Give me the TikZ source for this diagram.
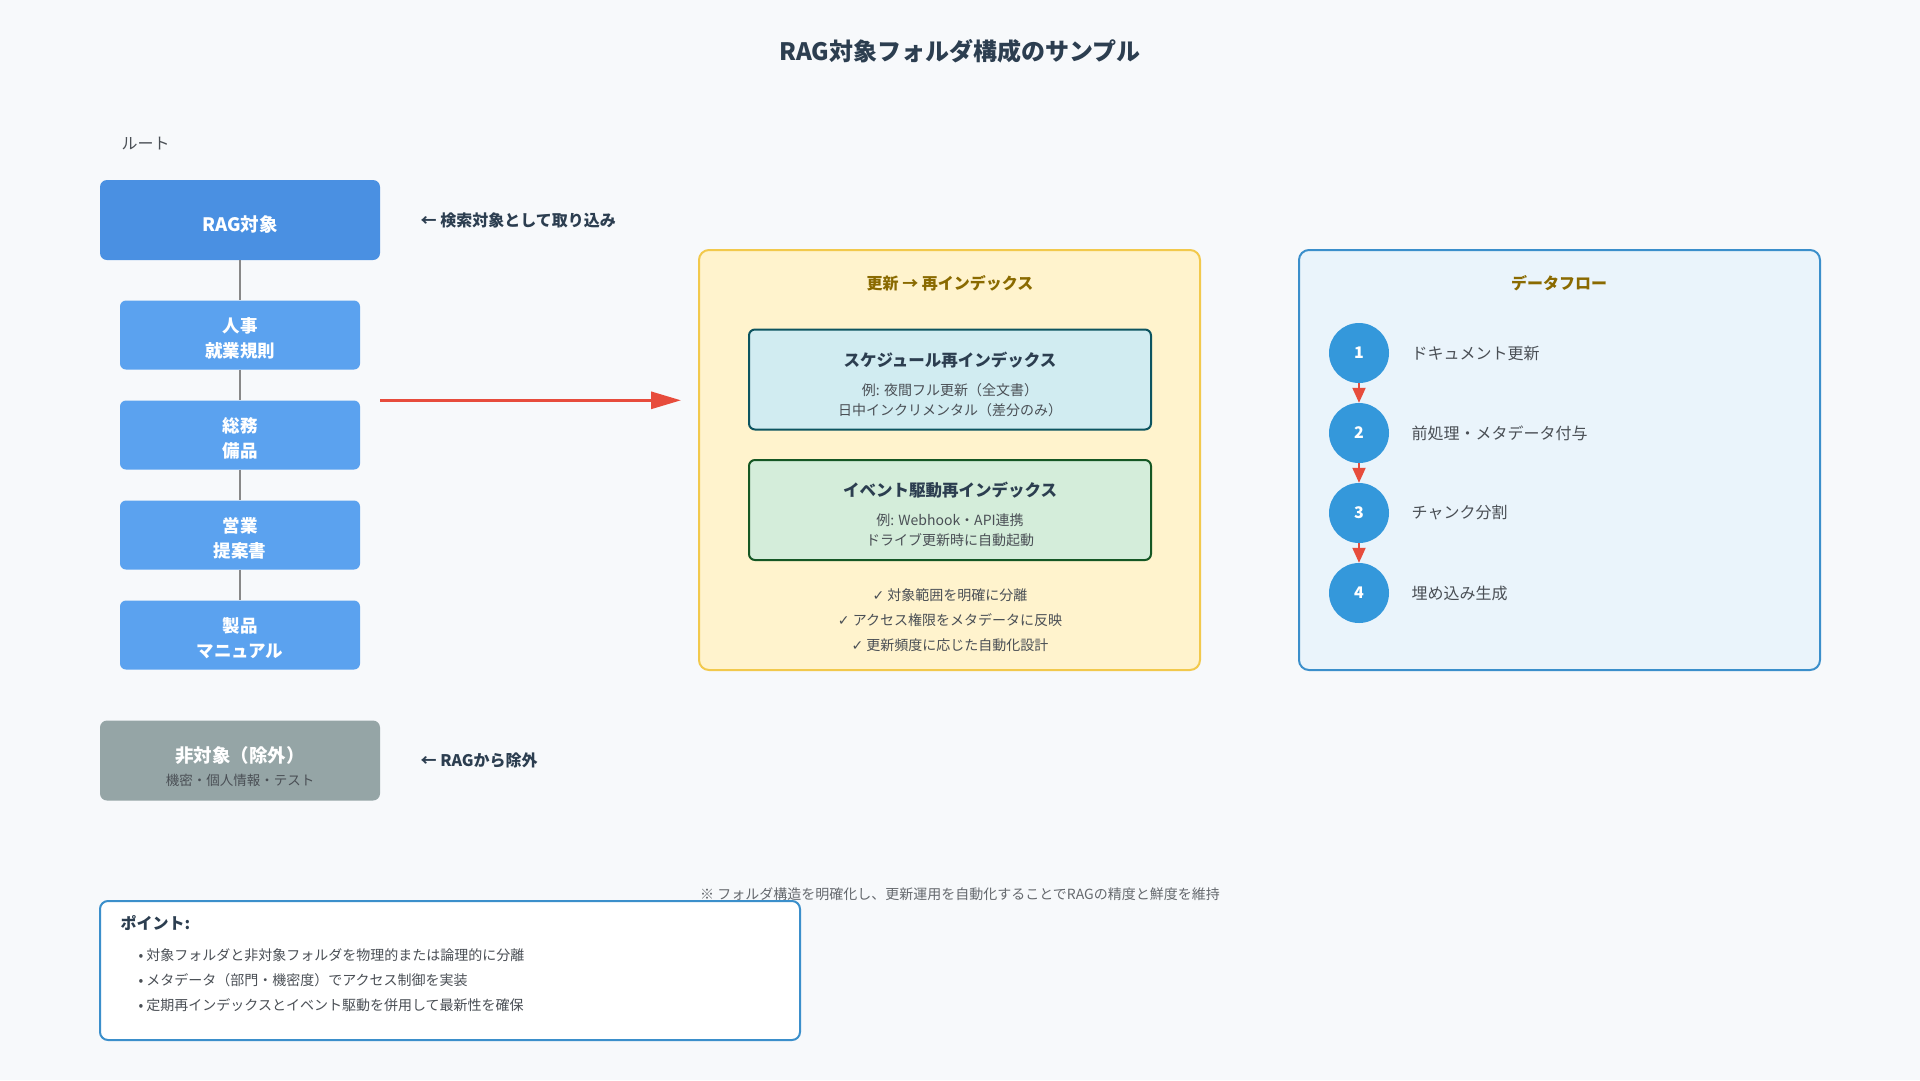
\documentclass[tikz,border=0pt]{standalone}
\usepackage{fontspec}
\setmainfont{Noto Sans CJK JP}
\newfontfamily\symfont{DejaVu Sans}
\usetikzlibrary{arrows.meta, positioning, calc}
\definecolor{rgBg}{HTML}{F7F9FB}
\definecolor{rgInk}{HTML}{2C3E50}
\definecolor{rgText}{HTML}{4A4F55}
\definecolor{rgRoot}{HTML}{4A90E2}
\definecolor{rgSub}{HTML}{5BA2EF}
\definecolor{rgLine}{HTML}{888888}
\definecolor{rgRed}{HTML}{E74C3C}
\definecolor{rgGray}{HTML}{95A5A6}
\definecolor{rgYellow}{HTML}{FFF3CD}
\definecolor{rgGold}{HTML}{F2C94C}
\definecolor{rgGoldInk}{HTML}{8A6A00}
\definecolor{rgTeal}{HTML}{0C5460}
\definecolor{rgTealFill}{HTML}{D1ECF1}
\definecolor{rgGreen}{HTML}{155724}
\definecolor{rgGreenFill}{HTML}{D4EDDA}
\definecolor{rgBlue}{HTML}{3B8FCB}
\definecolor{rgBlueFill}{HTML}{EAF4FB}
\definecolor{rgCircle}{HTML}{3498DB}
\newcommand{\rgsize}[2]{\fontsize{#1}{#2}\selectfont}
\newcommand{\rgup}[1]{\rule{0pt}{#1}}
\tikzset{
  rootbox/.style={rectangle, rounded corners=7pt, fill=#1, text=white, align=center, minimum width=280pt, minimum height=80pt, font=\rgsize{18.5}{25}\bfseries},
  rootbox/.default=rgRoot,
  subbox/.style={rectangle, rounded corners=6pt, fill=rgSub, text=white, align=center, minimum width=240pt, minimum height=69pt, font=\rgsize{17.5}{25}\bfseries},
  note/.style={anchor=west, text=rgInk, font=\rgsize{16}{20}\bfseries},
  panel/.style={rectangle, rounded corners=10pt, draw=#1, line width=2pt, minimum width=501pt, minimum height=420pt},
  innerbox/.style={rectangle, rounded corners=6pt, draw=#1, line width=2pt, fill=#1Fill, minimum width=402pt, minimum height=100pt, align=center, text=rgText, font=\rgsize{14}{20}},
  paneltitle/.style={text=rgGoldInk, font=\rgsize{16}{20}\bfseries},
  stepnode/.style={circle, fill=rgCircle, text=white, minimum size=60pt, inner sep=0pt, font=\rgsize{16}{18}\bfseries},
  steplabel/.style={anchor=west, text=rgText, font=\rgsize{16}{20}},
  treeline/.style={rgLine, line width=2pt},
  bigarrow/.style={-{Triangle[length=30pt, width=17pt]}, line width=3pt, rgRed},
  flowarrow/.style={-{Triangle[length=15pt, width=13pt]}, line width=2pt, rgRed},
}

\begin{document}
\begin{tikzpicture}[x=1pt, y=-1pt]
  \useasboundingbox[fill=rgBg] (0,0) rectangle (1920,1080);

  % title
  \node[text=rgInk, font=\rgsize{24}{28}\bfseries] (title) at (960,51) {RAG対象フォルダ構成のサンプル};

  % folder tree
  \node[anchor=west, text=rgText, font=\rgsize{16}{20}] (rootlabel) at (118,144) {ルート};
  \node[rootbox] (rag) at (240,220) {\rgup{24pt}RAG対象};
  \node[subbox] (jinji) at (240,335) {\rgup{21pt}人事\\就業規則};
  \node[subbox] (soumu) at (240,435) {\rgup{21pt}総務\\備品};
  \node[subbox] (eigyo) at (240,535) {\rgup{21pt}営業\\提案書};
  \node[subbox] (seihin) at (240,635) {\rgup{21pt}製品\\マニュアル};
  \draw[treeline] (rag) -- (jinji);
  \draw[treeline] (jinji) -- (soumu);
  \draw[treeline] (soumu) -- (eigyo);
  \draw[treeline] (eigyo) -- (seihin);
  \node[note, right=37pt of rag] (ragnote) {← 検索対象として取り込み};

  \node[rootbox=rgGray] (excl) at (240,760.5) {\rgup{28pt}非対象（除外）\\[-2pt]{\rgsize{13.5}{18}\mdseries\color{rgText}機密・個人情報・テスト}};
  \node[note, right=37pt of excl] (exclnote) {← RAGから除外};

  % update panel
  \node[panel=rgGold, fill=rgYellow] (upd) at (949.5,460) {};
  \node[paneltitle] (updtitle) at (950,283) {更新 → 再インデックス};
  \node[innerbox=rgTeal] (sched) at (950,379.5) {\rgup{25pt}{\rgsize{16.5}{20}\bfseries\color{rgInk}スケジュール再インデックス}\\[9pt]例: 夜間フル更新（全文書）\\日中インクリメンタル（差分のみ）};
  \node[innerbox=rgGreen] (event) at (950,510) {\rgup{24pt}{\rgsize{16.5}{20}\bfseries\color{rgInk}イベント駆動再インデックス}\\[9pt]例: Webhook・API連携\\ドライブ更新時に自動起動};
  \node[align=center, text=rgText, font=\rgsize{14}{25}] (checks) at (950,620) {{\symfont ✓} 対象範囲を明確に分離\\{\symfont ✓} アクセス権限をメタデータに反映\\{\symfont ✓} 更新頻度に応じた自動化設計};

  \coordinate (arrowstart) at (rag.east |- soumu.north);
  \draw[bigarrow] (arrowstart) -- ([xshift=-17pt]arrowstart -| upd.west);

  % data flow panel
  \node[panel=rgBlue, fill=rgBlueFill, minimum width=521pt] (flow) at (1559.5,460) {};
  \node[paneltitle] (flowtitle) at (1559,283) {データフロー};
  \node[stepnode] (s1) at (1359,353) {1};
  \node[stepnode] (s2) at (1359,433) {2};
  \node[stepnode] (s3) at (1359,513) {3};
  \node[stepnode] (s4) at (1359,593) {4};
  \node[steplabel, right=19pt of s1] (l1) {ドキュメント更新};
  \node[steplabel, right=19pt of s2] (l2) {前処理・メタデータ付与};
  \node[steplabel, right=19pt of s3] (l3) {チャンク分割};
  \node[steplabel, right=19pt of s4] (l4) {埋め込み生成};
  \draw[flowarrow] (s1) -- (s2);
  \draw[flowarrow] (s2) -- (s3);
  \draw[flowarrow] (s3) -- (s4);

  % footer
  \node[text=rgText!85, font=\rgsize{14}{18}] (footnote) at (960,894) {※ フォルダ構造を明確化し、更新運用を自動化することでRAGの精度と鮮度を維持};
  \node[rectangle, rounded corners=8pt, draw=rgBlue, line width=2pt, fill=white, minimum width=700pt, minimum height=139pt] (point) at (450,970.5) {};
  \node[anchor=west, text=rgInk, font=\rgsize{16}{20}\bfseries] (pointtitle) at (117,923) {ポイント:};
  \node[anchor=west, align=left, text=rgText, font=\rgsize{14}{25}] (bullets) at (135,980) {• 対象フォルダと非対象フォルダを物理的または論理的に分離\\• メタデータ（部門・機密度）でアクセス制御を実装\\• 定期再インデックスとイベント駆動を併用して最新性を確保};
\end{tikzpicture}
\end{document}
